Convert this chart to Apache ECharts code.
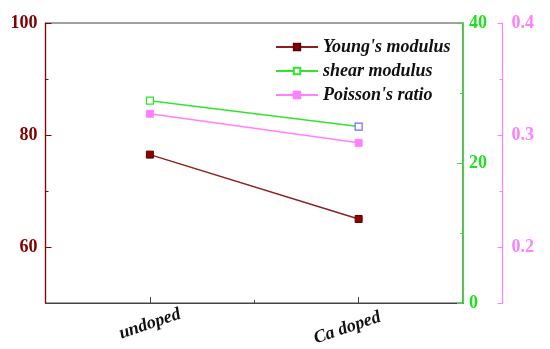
<!DOCTYPE html>
<html><head><meta charset="utf-8">
<script src="https://cdn.jsdelivr.net/npm/echarts@6/dist/echarts.min.js"></script>
<style>html,body{margin:0;padding:0;background:#fff}#c{width:550px;height:349px}</style>
</head><body><div id="c"></div>
<script>
const categories = ['undoped', 'Ca doped'];
const youngModulus = [76.5, 65.0];
const shearModulus = [28.9, 25.2];
const poissonRatio = [0.319, 0.293];
const leftTicks = [60, 80, 100];
const greenTicks = [0, 20, 40];
const pinkTicks = [0.2, 0.3, 0.4];

const RED = '#8b0000', GREEN = '#2ee62e', PINK = '#ff80ff';
const FONT = '"Liberation Serif", "Times New Roman", serif';
const toXY = arr => arr.map((v, i) => [i + 1, v]);

const chart = echarts.init(document.getElementById('c'));
const gridRight = 87;
const lblStyle = (c) => ({color: c, fontFamily: FONT, fontWeight: 'bold', fontSize: 18});
const xRich = {
  a: {fontFamily: FONT, fontStyle: 'italic', fontWeight: 'bold', fontSize: 18, color: '#111'},
  b: {fontFamily: FONT, fontStyle: 'italic', fontWeight: 'bold', fontSize: 18, color: '#111', padding: [0, 24, 0, 0]}
};

chart.setOption({
  animation: false,
  grid: {left: 45.5, right: gridRight, top: 23, bottom: 46, show: true, borderColor: '#444', borderWidth: 1.2, backgroundColor: 'transparent'},
  legend: {
    orient: 'vertical', left: 270, top: 33, itemWidth: 42, itemHeight: 8, itemGap: 6,
    textStyle: {fontFamily: FONT, fontStyle: 'italic', fontWeight: 'bold', fontSize: 18, color: '#111'},
    data: ["Young's modulus", 'shear modulus', "Poisson's ratio"]
  },
  xAxis: [{
    type: 'value', min: 0.5, max: 2.5, interval: 0.5,
    axisLine: {show: true, lineStyle: {color: '#444', width: 1.2}},
    splitLine: {show: false},
    axisTick: {show: true, inside: true, length: 6, customValues: [1, 2], lineStyle: {color: '#444'}},
    axisLabel: {customValues: [1, 2],
      formatter: v => { const i = Math.round(v) - 1; return categories[i] ? '{' + (i === 0 ? 'a' : 'b') + '|' + categories[i] + '}' : ''; },
      rich: xRich,
      rotate: 19, align: 'center', verticalAlign: 'middle', margin: 21}
  }, {
    type: 'value', min: 0.5, max: 2.5, interval: 0.5, position: 'bottom',
    axisLine: {show: false}, splitLine: {show: false}, axisLabel: {show: false},
    axisTick: {show: true, inside: true, length: 3, customValues: [1.5], lineStyle: {color: '#444'}}
  }],
  yAxis: [{
    type: 'value', min: 50, max: 100, interval: 10, position: 'left',
    axisLine: {show: true, lineStyle: {color: RED, width: 1.2}},
    splitLine: {show: false},
    axisTick: {show: true, inside: true, length: 6, customValues: leftTicks, lineStyle: {color: RED}},
    axisLabel: Object.assign({customValues: leftTicks, margin: 8}, lblStyle('#800000'))
  }, {
    type: 'value', min: 0, max: 40, interval: 10, position: 'right', offset: 0,
    axisLine: {show: true, lineStyle: {color: GREEN, width: 1.2}},
    splitLine: {show: false},
    axisTick: {show: true, inside: true, length: 6, customValues: greenTicks, lineStyle: {color: GREEN}},
    axisLabel: Object.assign({customValues: greenTicks, margin: 6}, lblStyle('#22dd22'))
  }, {
    type: 'value', min: 0.15, max: 0.4, interval: 0.05, position: 'right', offset: 39.5,
    axisLine: {show: true, lineStyle: {color: PINK, width: 1.2}},
    splitLine: {show: false},
    axisTick: {show: true, inside: true, length: 5, customValues: [0.15, 0.2, 0.3, 0.4], lineStyle: {color: PINK}},
    axisLabel: Object.assign({customValues: pinkTicks, margin: 9, formatter: v => v.toFixed(1)}, lblStyle(PINK))
  }, {
    type: 'value', min: 50, max: 100, interval: 10, position: 'left',
    axisLine: {show: false}, splitLine: {show: false}, axisLabel: {show: false},
    axisTick: {show: true, inside: true, length: 3, customValues: [70, 90], lineStyle: {color: RED}}
  }, {
    type: 'value', min: 0, max: 40, interval: 10, position: 'right', offset: 0,
    axisLine: {show: false}, splitLine: {show: false}, axisLabel: {show: false},
    axisTick: {show: true, inside: true, length: 3, customValues: [10, 30], lineStyle: {color: GREEN}}
  }, {
    type: 'value', min: 0.15, max: 0.4, interval: 0.05, position: 'right', offset: 39.5,
    axisLine: {show: false}, splitLine: {show: false}, axisLabel: {show: false},
    axisTick: {show: true, inside: true, length: 3, customValues: [0.25, 0.35], lineStyle: {color: PINK}}
  }],
  series: [{
    name: "Young's modulus", type: 'line', xAxisIndex: 0, yAxisIndex: 0,
    data: toXY(youngModulus), symbol: 'rect', symbolSize: 7,
    lineStyle: {color: '#8b2020', width: 1.5},
    itemStyle: {color: RED, borderColor: '#600000', borderWidth: 1}
  }, {
    name: 'shear modulus', type: 'line', xAxisIndex: 0, yAxisIndex: 1,
    data: toXY(shearModulus).map((d, i) => i === 1 ? {value: d, itemStyle: {borderColor: '#6b6bff'}} : d),
    symbol: 'rect', symbolSize: 7,
    lineStyle: {color: GREEN, width: 1.5},
    itemStyle: {color: '#fff', borderColor: GREEN, borderWidth: 1.2}
  }, {
    name: "Poisson's ratio", type: 'line', xAxisIndex: 0, yAxisIndex: 2,
    data: toXY(poissonRatio), symbol: 'rect', symbolSize: 7,
    lineStyle: {color: PINK, width: 1.5},
    itemStyle: {color: PINK, borderColor: PINK, borderWidth: 1}
  }]
});
</script></body></html>
